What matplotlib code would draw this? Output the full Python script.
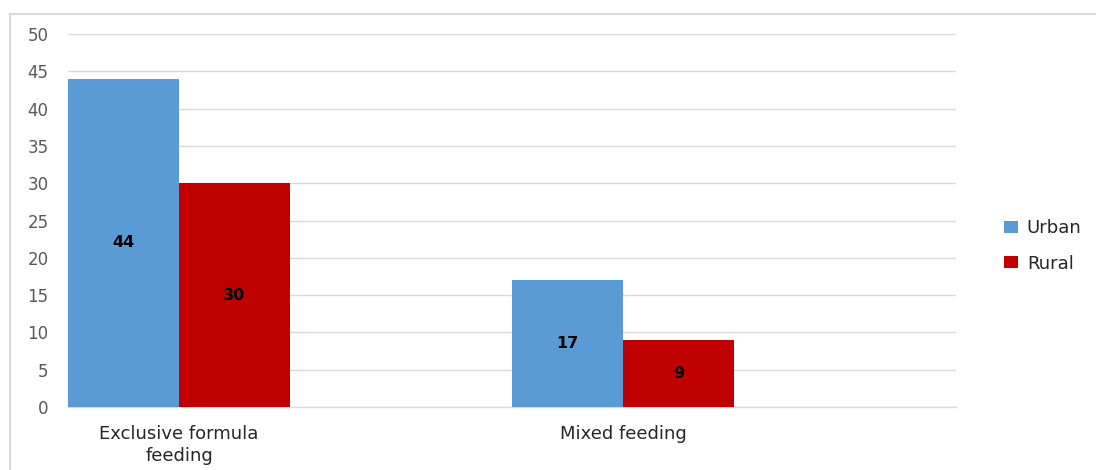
import matplotlib
matplotlib.use("Agg")
import matplotlib.pyplot as plt
import numpy as np
from matplotlib.lines import Line2D

categories = ["Exclusive formula\nfeeding", "Mixed feeding"]
urban = [44, 17]
rural = [30, 9]
yticks = [0, 5, 10, 15, 20, 25, 30, 35, 40, 45, 50]

URBAN_COLOR = "#5B9BD5"
RURAL_COLOR = "#C00000"

plt.rcParams["font.family"] = ["DejaVu Sans"]

W, H = 1096, 470
fig = plt.figure(figsize=(W / 100, H / 100), dpi=100)
fig.patch.set_facecolor("white")

# chart-area frame (top and left edges visible)
fig.add_artist(Line2D([10 / W, 1.0], [1 - 14 / H, 1 - 14 / H], color="#D9D9D9", lw=1.5))
fig.add_artist(Line2D([10 / W, 10 / W], [0, 1 - 14 / H], color="#D9D9D9", lw=1.5))

ax = fig.add_axes([68 / W, 63 / H, 888 / W, 373 / H])

x = np.arange(len(categories))
w = 0.25
b1 = ax.bar(x - w / 2, urban, width=w, color=URBAN_COLOR, label="Urban", zorder=3)
b2 = ax.bar(x + w / 2, rural, width=w, color=RURAL_COLOR, label="Rural", zorder=3)

for bars, vals in ((b1, urban), (b2, rural)):
    for bar, v in zip(bars, vals):
        ax.text(bar.get_x() + bar.get_width() / 2, v / 2, str(v),
                ha="center", va="center", fontsize=11.5, fontweight="bold",
                color="black", zorder=4)

ax.set_xlim(-0.25, 1.75)
ax.set_ylim(0, 50)
ax.set_yticks(yticks)
ax.yaxis.grid(True, color="#D9D9D9", lw=1, zorder=0)
ax.set_xticks(x)
ax.set_xticklabels(categories, fontsize=13, color="#262626", linespacing=1.3)
ax.tick_params(axis="y", labelsize=12, labelcolor="#595959", length=0, pad=14)
ax.tick_params(axis="x", length=0, pad=13)
for s in ("top", "right", "left"):
    ax.spines[s].set_visible(False)
ax.spines["bottom"].set_color("#D9D9D9")
ax.spines["bottom"].set_linewidth(1)

fig.legend(handles=[b1, b2], labels=["Urban", "Rural"], loc="center left",
           bbox_to_anchor=(988 / W, 1 - 246 / H), frameon=False, fontsize=13,
           handlelength=0.75, handleheight=0.6, handletextpad=0.5,
           labelspacing=0.95, labelcolor="#262626")

fig.savefig("out.png", dpi=100, facecolor=fig.get_facecolor())
